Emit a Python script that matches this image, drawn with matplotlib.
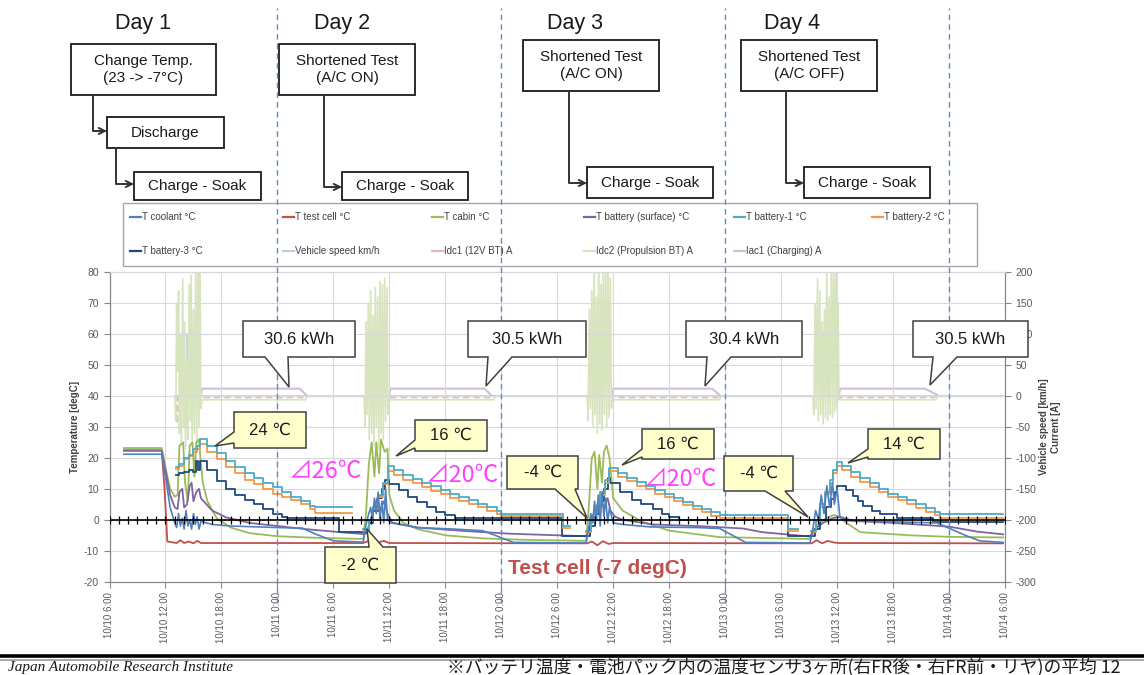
import numpy as np
import matplotlib
matplotlib.use("Agg")
import matplotlib.pyplot as plt
from matplotlib.patches import Rectangle, Polygon, FancyArrowPatch
from matplotlib.lines import Line2D

plt.rcParams['font.family'] = ['Liberation Sans', 'DejaVu Sans', 'Noto Sans CJK JP']
plt.rcParams['axes.unicode_minus'] = False

nan = np.nan
W, H = 1144, 675

# ---- time axis: hours counted from 10/10 6:00 ----
tick_hours = list(range(0, 97, 6))
tick_labels = ["10/10 6:00", "10/10 12:00", "10/10 18:00", "10/11 0:00", "10/11 6:00",
               "10/11 12:00", "10/11 18:00", "10/12 0:00", "10/12 6:00", "10/12 12:00",
               "10/12 18:00", "10/13 0:00", "10/13 6:00", "10/13 12:00", "10/13 18:00",
               "10/14 0:00", "10/14 6:00"]
day_lines = [18, 42, 66, 90]
axis_marks = list(range(0, 97))

# ---- temperatures [degC] (left axis) ----
cell_h = [1.55, 5.6, 5.9, 6.2, 7.2, 7.6, 8.0, 8.5, 9.0, 9.4, 9.8, 27.2, 27.6, 28.2, 28.8, 29.4, 30.0,
          51.2, 51.7, 52.3, 52.9, 53.5, 54.0, 75.3, 75.8, 76.4, 77.0, 77.6, 78.2, 95.8]
cell = [22.5, 22.5, 10, -7.0, -7.5, -6.6, -7.5, -7.0, -7.6, -6.8, -7.5, -7.5, -7.0, -6.6, -7.3, -6.8, -7.5,
        -7.6, -7.0, -8.2, -6.9, -7.8, -7.5, -7.6, -6.6, -7.6, -6.8, -7.3, -7.5, -7.6]

cabin_h = [1.55, 5.6, 6.0, 6.5, 7.0, 7.3, 7.5, 7.9, 8.1, 8.4, 8.6, 8.9, 9.1, 9.3, 9.6, 9.75, 10.0, 10.5,
           11.5, 13.0, 15.0, 18.0, 22.0, 27.2,
           27.5, 27.8, 28.1, 28.4, 28.6, 28.9, 29.1, 29.5, 29.8, 30.0, 30.5, 31.5, 33.0, 36.0, 40.0, 45.0, 51.1,
           51.4, 51.7, 52.0, 52.3, 52.5, 52.8, 53.0, 53.3, 53.6, 54.0, 55.0, 57.0, 60.0, 65.4, 72.5, 75.1,
           75.5, 76.0, 76.8, 77.6, 78.1, 79.0, 80.5, 85.8, 90.0, 95.8]
cabin = [23.2, 23.2, 17, 10, 7.5, 8, 24, 25, 12, 6, 24, 25, 14, 25, 26, 20, 12, 6,
         0.5, -2.5, -4.3, -5.3, -5.8, -6.2,
         2, 18, 25, 14, 25, 15, 26, 22, 23, 8, 3, -1, -3, -5, -6, -6.5, -6.8,
         5, 20, 22, 10, 21, 12, 22, 24, 20, 7, 3, -0.5, -3.5, -5.6, -6, -6.2,
         -4, -1.5, 0.5, 1.5, 1.2, -1, -4, -5, -5.5, -5.7]

surf_h = [1.55, 5.6, 6.0, 6.5, 7.0, 7.3, 7.5, 7.8, 8.0, 8.3, 8.6, 8.8, 9.0, 9.3, 9.6, 9.8,
          11.0, 12.5, 15.0, 18.0, 21.0, 24.0, 27.2,
          27.5, 27.8, 28.3, 28.7, 29.0, 29.4, 29.8, 30.3, 33.0, 38.0, 43.0, 48.0, 51.1,
          51.5, 52.0, 52.5, 53.0, 53.4, 53.7, 54.2, 55.0, 58.3, 63.6, 67.9, 70.0, 75.1,
          75.6, 76.5, 77.5, 78.3, 79.8, 84.0, 87.0, 90.0, 93.0, 95.8]
surf = [22.3, 22.3, 16, 8, 4, 3.5, 9, 10, 4, 5, 11, 12, 6, 9, 10, 7,
        3, 0.8, -1, -2, -3, -3.8, -4.6,
        -4.5, -2, 3, 7, 3, 6, 2, -0.9, -2.5, -3.6, -4.5, -5.0, -5.3,
        -2, 3, 6, 4, 7, 3, 1, 0, -1.5, -2.1, -2.8, -4, -5.4,
        -3, -1, 0.5, 1, -0.4, -1, -1.6, -2.2, -3.8, -4.7]

cool_h = [1.55, 5.6, 6.0, 6.5, 7.0, 7.2, 7.4, 7.6, 7.8, 8.0, 8.2, 8.4, 8.6, 8.8, 9.0, 9.2, 9.4, 9.6, 9.8,
          11.0, 13.0, 18.0, 20.7, 22.0, 24.0, 27.2,
          27.4, 27.7, 28.0, 28.2, 28.4, 28.6, 28.8, 29.0, 29.2, 29.4, 29.6, 29.8, 30.2, 33.0, 37.0, 40.0,
          41.5, 43.3, 51.1,
          51.3, 51.6, 51.8, 52.0, 52.2, 52.4, 52.6, 52.8, 53.0, 53.2, 53.4, 53.6, 54.0, 55.0, 58.0, 63.0,
          65.4, 68.2, 75.1,
          75.4, 75.7, 76.0, 76.3, 76.6, 76.9, 77.2, 77.5, 77.7, 78.0, 78.3, 79.0, 82.4, 86.0, 88.7, 91.9,
          93.3, 95.8]
cool = [21.2, 21.2, 14, 4, -1, -2.5, 2, -2, 0.5, -3, 3, -2, 0, -3, 2, -1.5, 1, -3, -0.5,
        -1.5, -2, -2.5, -2.7, -4.5, -6.8, -7.2,
        -3, 1, 4, 0, 7, 2, 9, 0, 6, -1, 10, 0, -1, -2.5, -3, -3.5,
        -5.2, -7.3, -7.5,
        -4, 2, -1, 6, 0, 8, -2, 9, 1, 7, -1, 4, -1, -1.5, -2.3, -2.5,
        -2.8, -7.3, -7.5,
        -3, 3, 0, 8, 2, 11, 4, 12, 5, 10, 1, -0.3, -0.5, -0.8, -1, -5.2,
        -6.8, -7.3]

batt12_h = [7.1, 7.5, 8.0, 8.5, 9.0, 9.4, 9.7, 10.5, 11.5, 12.5, 13.5, 14.5, 15.5, 16.5, 17.5, 18.5,
            19.5, 20.5, 21.5, 22.0, 26.0,
            27.2, 27.8, 28.3, 28.8, 29.3, 29.9, 30.5, 31.5, 32.5, 33.5, 34.5, 35.5, 36.5, 37.5, 38.5,
            39.5, 40.5, 41.5, 42.0, 48.6, 49.4,
            51.1, 51.6, 52.1, 52.6, 53.1, 53.6, 54.5, 55.5, 56.5, 57.5, 58.5, 59.5, 60.5, 61.5, 62.5,
            63.5, 64.5, 65.4, 72.7, 73.8,
            75.2, 75.7, 76.2, 76.7, 77.2, 77.6, 78.0, 78.5, 79.5, 80.5, 81.5, 82.5, 83.5, 84.5, 85.5,
            86.5, 87.5, 88.5, 89.0, 95.8]
batt1 = [17, 18, 20, 21, 23, 24, 26, 24, 21.5, 19, 17, 15, 13.5, 12, 10.5, 9,
         7.5, 6, 4.5, 4, nan,
         -3, 0, 4, 8, 12, 17.4, 16, 14.5, 13.3, 12, 10.8, 9.7, 8.5, 7.5, 6.3,
         5.2, 4.2, 2.8, 1.8, -2, nan,
         -3.5, 0, 4, 9, 13, 16.8, 15, 13.5, 12.3, 11, 9.5, 8.3, 7, 5.8, 4.6,
         3.5, 2.4, 1.5, -3, nan,
         -3.5, 0, 5, 9, 13, 16, 18.8, 17.5, 15.5, 13.6, 11.8, 10, 8.5, 7.5, 6.3,
         5, 3.7, 2.6, 1.8, 1.8]
batt2 = [16.5, 17.5, 19.5, 20.5, 22, 23, 24.4, 22, 19.5, 17, 15, 13, 11.5, 10, 8.5, 7.5,
         6.3, 5, 3.5, 2.3, nan,
         -3.5, -0.5, 3.5, 7.5, 11.5, 15.7, 14.5, 13, 11.8, 10.5, 9.3, 8.2, 7.2, 6.2, 5,
         4, 3, 1.8, 1.2, -2.5, nan,
         -4, -0.5, 3.5, 8, 12, 15.7, 14, 12.5, 11, 9.8, 8.5, 7.3, 6, 4.8, 3.6,
         2.5, 1.3, 0.5, -3.5, nan,
         -4, -0.5, 4, 8.5, 12, 15, 17.3, 16, 14, 12.2, 10.5, 9, 7.5, 6.3, 5,
         3.8, 2.6, 1.5, 0.6, 0.6]

batt3_h = [7.1, 7.5, 8.0, 8.5, 9.0, 9.3, 9.5, 9.7, 10.5, 11.5, 12.5, 13.5, 14.5, 15.5, 16.5, 17.5,
           18.5, 19.0, 24.6, 27.2,
           27.8, 28.3, 28.8, 29.2, 29.5, 30.0, 31.0, 32.0, 33.0, 34.0, 35.0, 36.0, 37.0, 48.5, 51.1,
           51.5, 52.0, 52.5, 53.0, 53.4, 53.7, 54.7, 56.0, 57.0, 58.3, 59.2, 60.0, 61.0, 72.7, 75.2,
           75.6, 76.2, 76.8, 77.3, 77.8, 78.0, 79.0, 79.7, 80.2, 80.8, 81.7, 82.6, 84.4, 88.3, 95.8]
batt3 = [14.5, 15, 15.5, 16, 15.5, 19, 16, 19, 16, 12.5, 10, 8, 6.3, 5, 3.5, 2,
         1, 0.5, -4, -4,
         -1, 3, 7, 10, 13, 11.5, 9.5, 7.5, 5.7, 4, 2.5, 1.5, 0.7, -5.2, -5.2,
         -2, 2, 6, 10, 13.5, 12, 9, 6.5, 5, 3.4, 2, 0.8, 0, -5.2, -5.2,
         -3, 0, 4, 6.6, 9, 10.9, 9.5, 7.7, 6, 4.5, 3, 1.8, 0.7, -0.8, -0.8]

# ---- speed [km/h] / currents [A] (right axis) ----
speed_h = [7.0, 7.8, 7.85, 8.3, 8.35, 27.9, 27.95, 28.3, 28.35, 51.8, 51.85, 52.2, 52.25,
           76.5, 76.55, 77.2, 77.25, 95.8]
speed = [0, 0, 100, 100, 0, 0, 100, 100, 0, 0, 95, 95, 0, 0, 102, 102, 0, 0]

idc1_h = [7.0, 7.2, 7.25, 7.35, 9.8, 10.0, 21.0, 21.2, 29.9, 30.1, 41.0, 41.2, 53.7, 53.9,
          65.2, 65.4, 78.1, 78.3, 88.4, 88.6, 95.8]
idc1 = [0, 0, -45, 0, 0, -2, -2, 0, 0, -2, -2, 0, 0, -2, -2, 0, 0, -2, -2, 0, 0]

idc2_h = [7.0, 7.1, 7.2, 7.3, 7.4, 7.5, 7.6, 7.7, 7.85, 7.95, 8.05, 8.15, 8.3, 8.4, 8.55, 8.65,
          8.75, 8.85, 9.0, 9.1, 9.25, 9.35, 9.5, 9.6, 9.7, 9.8, 9.9, 21.0, 21.2,
          27.3, 27.4, 27.5, 27.6, 27.75, 27.85, 28.0, 28.1, 28.25, 28.35, 28.5, 28.6, 28.75, 28.85,
          29.0, 29.1, 29.25, 29.35, 29.5, 29.6, 29.75, 29.85, 29.95, 41.2, 41.4,
          51.2, 51.3, 51.45, 51.55, 51.7, 51.8, 51.95, 52.05, 52.2, 52.3, 52.45, 52.55, 52.7, 52.8,
          52.95, 53.05, 53.2, 53.3, 53.45, 53.55, 53.7, 53.8, 53.9, 65.4, 65.6,
          75.4, 75.5, 75.65, 75.75, 75.9, 76.0, 76.15, 76.25, 76.4, 76.5, 76.65, 76.75, 76.9, 77.0,
          77.15, 77.25, 77.4, 77.5, 77.65, 77.75, 77.9, 78.0, 78.1, 78.2, 88.6, 88.8, 95.8]
idc2 = [0, -40, 150, 40, 170, -60, 100, -80, 190, -50, 120, -85, 60, -70, 180, -40,
        195, -80, 140, -60, 210, -90, 220, -50, 230, -20, -6, -6, 0,
        0, -50, 120, -30, 150, -70, 170, -60, 130, -80, 175, -50, 160, -85,
        185, -60, 180, -70, 190, -40, 175, -30, -6, -6, 0,
        0, -40, 140, -20, 170, -50, 210, -30, 160, -60, 220, -45, 180, -55,
        230, -30, 200, -50, 230, -35, 190, -20, -6, -6, 0,
        0, -30, 150, -20, 190, -40, 170, -30, 120, -45, 140, -35, 210, -40,
        160, -30, 230, -35, 220, -25, 240, -20, 150, -6, -6, 0, 0]

iac1_h = [7.0, 9.8, 9.9, 20.4, 21.0, 21.2, 30.0, 30.1, 40.2, 40.8, 41.0, 53.9, 54.0, 64.6, 65.3,
          65.5, 78.2, 78.3, 87.4, 88.6, 88.9, 95.8]
iac1 = [0, 0, 12, 12, 3, 0, 0, 12, 12, 3, 0, 0, 12, 12, 3, 0, 0, 12, 12, 3, 0, 0]

C_COOL, C_CELL, C_CABIN, C_SURF = '#4F81BD', '#C0504D', '#9BBB59', '#8064A2'
C_B1, C_B2, C_B3 = '#4BACC6', '#F79646', '#1F497D'
C_SPEED, C_IDC1, C_IDC2, C_IAC1 = '#B9CDE5', '#E6B9B8', '#D7E4BD', '#CCC1DA'


def fx(x):
    return x / W


def fy(y):
    return 1 - y / H


fig = plt.figure(figsize=(11.44, 6.75), dpi=100)
ax = fig.add_axes([fx(109.5), fy(581.7), (1005 - 109.5) / W, (581.7 - 272.3) / H])
axr = ax.twinx()
ax.set_zorder(axr.get_zorder() + 1)
ax.patch.set_visible(False)

# right axis series (drawn underneath)
axr.plot(speed_h, speed, color=C_SPEED, lw=1.2)
axr.plot(iac1_h, iac1, color=C_IAC1, lw=1.5)
axr.plot(idc1_h, idc1, color=C_IDC1, lw=1.5, ls=(0, (3, 2)))
axr.plot(idc2_h, idc2, color=C_IDC2, lw=1.2)
axr.set_ylim(-300, 200)
axr.set_yticks(range(-300, 201, 50))

# temperatures
ax.plot(cell_h, cell, color=C_CELL, lw=1.3)
ax.plot(cabin_h, cabin, color=C_CABIN, lw=1.3)
ax.plot(surf_h, surf, color=C_SURF, lw=1.3)
ax.step(batt3_h, batt3, where='post', color=C_B3, lw=1.3)
ax.step(batt12_h, batt2, where='post', color=C_B2, lw=1.3)
ax.step(batt12_h, batt1, where='post', color=C_B1, lw=1.3)
ax.plot(cool_h, cool, color=C_COOL, lw=1.2)

# zero axis with hourly marks
ax.axhline(0, color='black', lw=1.2, zorder=5)
ax.plot(axis_marks, [0] * len(axis_marks), ls='none', marker='|', ms=6, mew=0.9,
        color='black', zorder=5)

ax.set_xlim(0, 96)
ax.set_ylim(-20, 80)
ax.set_yticks(range(-20, 81, 10))
ax.set_xticks(tick_hours)
ax.set_xticklabels(tick_labels, rotation=90, fontsize=7, color='#595959')
ax.grid(True, color='#D9D9D9', lw=0.8)
ax.set_axisbelow(True)

for a in (ax, axr):
    for s in ('left', 'right', 'bottom'):
        a.spines[s].set_color('#868686')
    a.spines['top'].set_color('#D9D9D9')
ax.tick_params(axis='both', length=4, color='#868686', labelsize=7.5, labelcolor='#595959')
axr.tick_params(axis='y', length=4, color='#868686', labelsize=7.5, labelcolor='#595959')
ax.tick_params(axis='x', labelsize=7)
ax.set_ylabel('Temperature [degC]', fontsize=7, fontweight='bold', color='#404040', labelpad=3)
axr.set_ylabel('Vehicle speed [km/h]\nCurrent [A]', fontsize=7, fontweight='bold',
               color='#404040', labelpad=2)

# day boundary dashed lines through the slide
for d in day_lines:
    ax.axvline(d, ymin=-0.07, ymax=1.854, clip_on=False, color='#5B8BD0', lw=1.0,
               ls=(0, (4, 3)), zorder=6)

# ---- header: day titles, step boxes, arrows ----
day_titles = [("Day 1", 143, 23), ("Day 2", 342, 23), ("Day 3", 575, 23), ("Day 4", 792, 23)]
for t, x, y in day_titles:
    fig.text(fx(x), fy(y), t, fontsize=15.5, ha='center', va='center', color='#1a1a1a')

step_boxes = [("Change Temp.\n(23 -> -7\u00b0C)", 71, 44, 216, 95),
              ("Discharge", 107, 117, 224, 148),
              ("Charge - Soak", 134, 172, 261, 200),
              ("Shortened Test\n(A/C ON)", 279, 44, 415, 95),
              ("Charge - Soak", 342, 172, 468, 200),
              ("Shortened Test\n(A/C ON)", 523, 40, 659, 91),
              ("Charge - Soak", 587, 167, 713, 198),
              ("Shortened Test\n(A/C OFF)", 741, 40, 877, 91),
              ("Charge - Soak", 804, 167, 930, 198)]
for t, x0, y0, x1, y1 in step_boxes:
    fig.add_artist(Rectangle((fx(x0), fy(y1)), (x1 - x0) / W, (y1 - y0) / H,
                             transform=fig.transFigure, fc='white', ec='#1a1a1a', lw=1.3))
    fig.text(fx((x0 + x1) / 2), fy((y0 + y1) / 2), t, fontsize=11, ha='center', va='center',
             linespacing=1.25, color='#1a1a1a')

step_arrows = [(93, 95, 131, 107), (116, 148, 184, 134), (324, 95, 187, 342),
               (569, 91, 183, 587), (786, 91, 183, 804)]
for x, ya, yb, xe in step_arrows:
    fig.add_artist(FancyArrowPatch(posA=(fx(x), fy(ya)), posB=(fx(xe), fy(yb)),
                                   connectionstyle='angle,angleA=-90,angleB=180,rad=0',
                                   arrowstyle='->', mutation_scale=11, lw=1.4, color='#333333',
                                   shrinkA=0, shrinkB=0, transform=fig.transFigure))

# ---- legend ----
fig.add_artist(Rectangle((fx(123), fy(266)), (977 - 123) / W, (266 - 203) / H,
                         transform=fig.transFigure, fill=False, ec='#A6A6A6', lw=1.0))
legend_items = [("T coolant \u00b0C", C_COOL, 130, 217), ("T test cell \u00b0C", C_CELL, 283, 217),
                ("T cabin \u00b0C", C_CABIN, 432, 217), ("T battery (surface) \u00b0C", C_SURF, 584, 217),
                ("T battery-1 \u00b0C", C_B1, 734, 217), ("T battery-2 \u00b0C", C_B2, 872, 217),
                ("T battery-3 \u00b0C", C_B3, 130, 251), ("Vehicle speed km/h", C_SPEED, 283, 251),
                ("Idc1 (12V BT) A", C_IDC1, 432, 251), ("Idc2 (Propulsion BT) A", C_IDC2, 584, 251),
                ("Iac1 (Charging) A", C_IAC1, 734, 251)]
for t, c, x, y in legend_items:
    fig.add_artist(Line2D([fx(x), fx(x + 11)], [fy(y), fy(y)], color=c, lw=1.6,
                          transform=fig.transFigure))
    fig.text(fx(x + 12), fy(y), t, fontsize=7, ha='left', va='center', color='#404040')


# ---- callouts ----
def callout(text, box, side, base, tip, face, fs=12):
    x0, y0, x1, y1 = box
    b0, b1 = base
    if side == 'bottom':
        pts = [(x0, y0), (x1, y0), (x1, y1), (b1, y1), tip, (b0, y1), (x0, y1)]
    elif side == 'top':
        pts = [(x0, y0), (b0, y0), tip, (b1, y0), (x1, y0), (x1, y1), (x0, y1)]
    else:
        pts = [(x0, y0), (x1, y0), (x1, y1), (x0, y1), (x0, b1), tip, (x0, b0)]
    fig.add_artist(Polygon([(fx(a), fy(b)) for a, b in pts], closed=True,
                           transform=fig.transFigure, fc=face, ec='#404040', lw=1.1, zorder=10))
    fig.text(fx((x0 + x1) / 2), fy((y0 + y1) / 2), text, fontsize=fs, ha='center', va='center',
             color='#1a1a1a', zorder=11)


kwh_callouts = [("30.6 kWh", (243, 321, 355, 357), (265, 288), (289, 387)),
                ("30.5 kWh", (468, 321, 586, 357), (488, 512), (486, 386)),
                ("30.4 kWh", (686, 321, 802, 357), (707, 731), (705, 386)),
                ("30.5 kWh", (913, 321, 1028, 357), (933, 957), (930, 385))]
for t, box, base, tip in kwh_callouts:
    callout(t, box, 'bottom', base, tip, 'white')

temp_callouts = [("24 \u2103", (234, 412, 306, 448), 'left', (432, 443), (215, 446)),
                 ("16 \u2103", (415, 420, 487, 451), 'left', (440, 448), (396, 456)),
                 ("16 \u2103", (642, 429, 714, 459), 'left', (449, 457), (622, 465)),
                 ("14 \u2103", (868, 429, 940, 459), 'left', (449, 457), (848, 463)),
                 ("-4 \u2103", (507, 456, 578, 489), 'bottom', (555, 575), (587, 518)),
                 ("-4 \u2103", (724, 456, 793, 491), 'bottom', (765, 785), (808, 517)),
                 ("-2 \u2103", (325, 547, 396, 583), 'top', (369, 383), (367, 529))]
for t, box, side, base, tip in temp_callouts:
    callout(t, box, side, base, tip, '#FFFFCC')

for t, x, y in [("\u22bf26\u2103", 289, 471), ("\u22bf20\u2103", 426, 475), ("\u22bf20\u2103", 644, 480)]:
    fig.text(fx(x), fy(y), t, fontsize=17, color='#FF40FF', ha='left', va='center',
             family=['Noto Sans CJK JP', 'DejaVu Sans'], zorder=11)

fig.text(fx(508), fy(568), "Test cell (-7 degC)", fontsize=15, fontweight='bold',
         color=C_CELL, ha='left', va='center', zorder=11)

# ---- footer ----
fig.add_artist(Line2D([0, 1], [fy(656), fy(656)], color='black', lw=2.6, transform=fig.transFigure))
fig.add_artist(Line2D([0, 1], [fy(660), fy(660)], color='#9a9a9a', lw=1.2, transform=fig.transFigure))
fig.text(fx(8), fy(671), "Japan Automobile Research Institute", fontsize=11, style='italic',
         family='Liberation Serif', ha='left', va='baseline', color='#1a1a1a')
fig.text(fx(447), fy(672), "\u203b\u30d0\u30c3\u30c6\u30ea\u6e29\u5ea6\u30fb\u96fb\u6c60\u30d1\u30c3\u30af\u5185\u306e\u6e29\u5ea6\u30bb\u30f3\u30b53\u30f6\u6240(\u53f3FR\u5f8c\u30fb\u53f3FR\u524d\u30fb\u30ea\u30e4)\u306e\u5e73\u5747 12",
         fontsize=12.8, family=['Noto Sans CJK JP', 'DejaVu Sans'], ha='left', va='baseline',
         color='#1a1a1a')

fig.savefig('out.png', dpi=100)
